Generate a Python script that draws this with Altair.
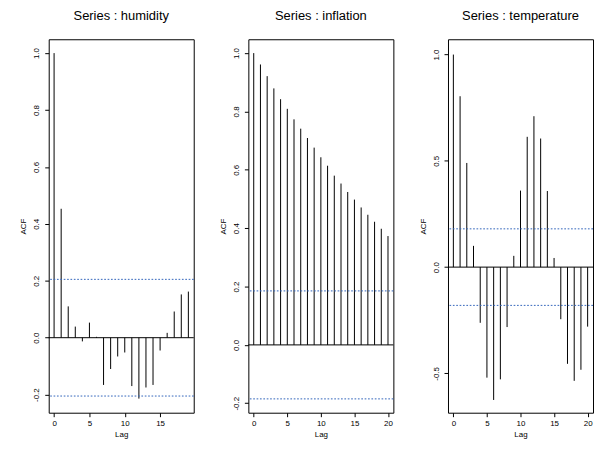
import altair as alt
import pandas as pd

# ---- data ----
hum_lags = list(range(0, 20))
hum_acf = [1.0, 0.453, 0.11, 0.039, -0.013, 0.053, 0.003, -0.166, -0.11, -0.066,
           -0.052, -0.17, -0.214, -0.175, -0.166, -0.045, 0.017, 0.092, 0.152, 0.162]
hum_clim = 0.205

inf_lags = list(range(0, 21))
inf_acf = [1.0, 0.961, 0.921, 0.879, 0.842, 0.809, 0.773, 0.741, 0.709, 0.676, 0.643,
           0.614, 0.58, 0.553, 0.524, 0.498, 0.471, 0.446, 0.422, 0.398, 0.373]
inf_clim = 0.185

tmp_lags = list(range(0, 21))
tmp_acf = [1.0, 0.804, 0.49, 0.10, -0.262, -0.52, -0.625, -0.528, -0.282, 0.053, 0.36,
           0.613, 0.71, 0.605, 0.358, 0.043, -0.245, -0.455, -0.535, -0.483, -0.28]
tmp_clim = 0.18

titles = ["Series : humidity", "Series : inflation", "Series : temperature"]
x_ticks_hum = [0, 5, 10, 15]
x_ticks_other = [0, 5, 10, 15, 20]
y_ticks_small = [-0.2, 0.0, 0.2, 0.4, 0.6, 0.8, 1.0]
y_ticks_tmp = [-0.5, 0.0, 0.5, 1.0]

FONT = "Liberation Sans"
BLUE = "#3366bb"
W, H = 146, 376

label_expr = "datum.value < 0 ? '-' + format(-datum.value, '.1f') : format(datum.value, '.1f')"


def yenc(field, ydom, yticks):
    return alt.Y(
        f"{field}:Q",
        title="ACF",
        scale=alt.Scale(domain=ydom, nice=False, zero=False),
        axis=alt.Axis(values=yticks, labelExpr=label_expr, labelAngle=-90,
                      tickSize=4, labelPadding=4, titlePadding=5),
    )


def panel(title, lags, acf, clim, xdom, xticks, ydom, yticks):
    df = pd.DataFrame({"lag": lags, "acf": acf, "zero": [0.0] * len(lags)})
    bars = alt.Chart(df).mark_rule(color="black", strokeWidth=1).encode(
        x=alt.X("lag:Q", title="Lag",
                scale=alt.Scale(domain=xdom, nice=False, zero=False),
                axis=alt.Axis(values=xticks, format="d", tickSize=4,
                              labelPadding=3, titlePadding=3)),
        y=yenc("zero", ydom, yticks),
        y2="acf:Q",
    )
    zero = alt.Chart(pd.DataFrame({"v": [0.0]})).mark_rule(
        color="black", strokeWidth=1).encode(y=yenc("v", ydom, yticks))
    conf = alt.Chart(pd.DataFrame({"v": [clim, -clim]})).mark_rule(
        color=BLUE, strokeWidth=1, strokeDash=[1.7, 1.7]).encode(y=yenc("v", ydom, yticks))
    return alt.layer(bars, zero, conf).properties(
        width=W, height=H,
        title=alt.TitleParams(title, fontSize=13, font=FONT, fontWeight="normal",
                              color="black", anchor="middle", offset=16),
    )


p1 = panel(titles[0], hum_lags, hum_acf, hum_clim, [-0.76, 19.76], x_ticks_hum,
           [-0.2636, 1.0486], y_ticks_small)
p2 = panel(titles[1], inf_lags, inf_acf, inf_clim, [-0.8, 20.8], x_ticks_other,
           [-0.2324, 1.0474], y_ticks_small)
p3 = panel(titles[2], tmp_lags, tmp_acf, tmp_clim, [-0.8, 20.8], x_ticks_other,
           [-0.685, 1.072], y_ticks_tmp)

chart = alt.hconcat(p1, p2, p3, spacing=24).properties(
    padding={"left": 11, "top": 0, "right": 0, "bottom": 0}
).configure_view(stroke="black", strokeWidth=1).configure_axis(
    grid=False, domain=False, tickColor="black", labelColor="black",
    labelFont=FONT, labelFontSize=8, titleFont=FONT, titleFontSize=8,
    titleFontWeight="normal", titleColor="black", ticks=True,
)

chart.save("out.html", embed_options={"renderer": "svg", "actions": False})
